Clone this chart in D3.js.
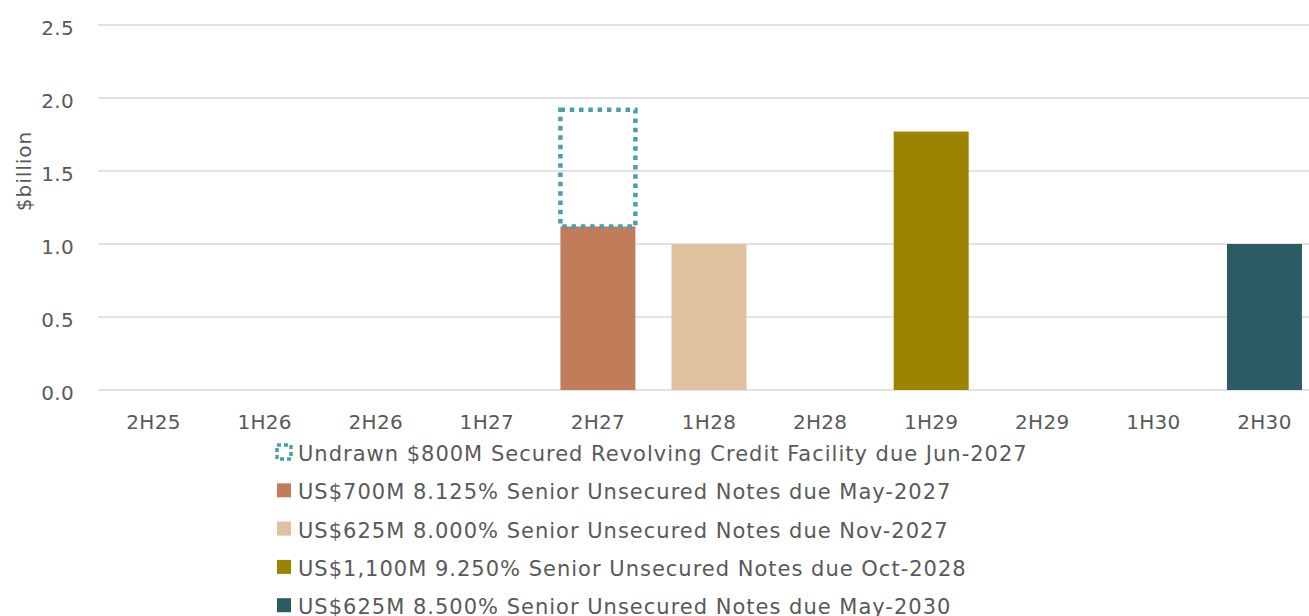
<!DOCTYPE html>
<html>
<head>
<meta charset="utf-8">
<script src="https://cdn.jsdelivr.net/npm/d3@7"></script>
<style>
  body { margin: 0; background: #fff; }
  svg { display: block; font-family: "DejaVu Sans", sans-serif; }
</style>
</head>
<body>
<svg id="chart"></svg>
<script>
// Chart size
const width = 1309;
const height = 616;

// Data
const periods = ["2H25", "1H26", "2H26", "1H27", "2H27", "1H28", "2H28", "1H29", "2H29", "1H30", "2H30"];
const notesLabels = [
    "US$700M 8.125% Senior Unsecured Notes due May-2027",
    "US$625M 8.000% Senior Unsecured Notes due Nov-2027",
    "US$1,100M 9.250% Senior Unsecured Notes due Oct-2028",
    "US$625M 8.500% Senior Unsecured Notes due May-2030"
];
const notesPeriods = ["2H27", "1H28", "1H29", "2H30"];
const notesValues = [1.12, 1.0, 1.77, 1.0];
const revolverLabel = "Undrawn $800M Secured Revolving Credit Facility due Jun-2027";
const revolverPeriod = "2H27";
const revolverValue = 0.8;
const yTicks = [0, 0.5, 1.0, 1.5, 2.0, 2.5];

const colors = ["#c17c5a", "#e0c19f", "#9a8400", "#2b5c63"];
const revolverColor = "#4a9faa";
const textColor = "#595959";

const svg = d3.select("#chart")
    .attr("width", width)
    .attr("height", height);

// Scales
const x = d3.scaleBand()
    .domain(periods)
    .range([98, 1320])
    .paddingInner(0.325)
    .paddingOuter(0.1625);

const y = d3.scaleLinear()
    .domain([0, 2.5])
    .range([390, 25]);

// Gridlines
svg.append("g")
    .selectAll("line")
    .data(yTicks)
    .join("line")
    .attr("x1", 98)
    .attr("x2", width)
    .attr("y1", d => y(d))
    .attr("y2", d => y(d))
    .attr("stroke", "#d9d9d9")
    .attr("stroke-width", 1.5);

// Y axis labels
const yAxis = d3.axisLeft(y)
    .tickValues(yTicks)
    .tickFormat(d3.format(".1f"))
    .tickSize(0)
    .tickPadding(0);

svg.append("g")
    .attr("transform", "translate(74,0)")
    .call(yAxis)
    .call(g => g.select(".domain").remove())
    .call(g => g.selectAll("text")
        .attr("fill", textColor)
        .attr("dy", "0.45em")
        .style("font-size", "20px")
        .style("letter-spacing", "0.3px")
        .style("font-family", "DejaVu Sans, sans-serif"));

// Y axis title
svg.append("text")
    .attr("transform", "translate(31,171) rotate(-90)")
    .attr("text-anchor", "middle")
    .attr("fill", textColor)
    .style("font-size", "20px")
    .style("letter-spacing", "1px")
    .text("$billion");

// X axis labels
const xAxis = d3.axisBottom(x).tickSize(0).tickPadding(0);
svg.append("g")
    .attr("transform", "translate(0,414.8)")
    .call(xAxis)
    .call(g => g.select(".domain").remove())
    .call(g => g.selectAll("text")
        .attr("fill", textColor)
        .style("font-size", "20px")
        .style("letter-spacing", "0.3px")
        .style("font-family", "DejaVu Sans, sans-serif"));

// Notes bars
const notes = notesPeriods.map((p, i) => ({ period: p, value: notesValues[i], color: colors[i] }));
svg.append("g")
    .selectAll("rect")
    .data(notes)
    .join("rect")
    .attr("x", d => x(d.period))
    .attr("y", d => y(d.value))
    .attr("width", x.bandwidth())
    .attr("height", d => y(0) - y(d.value))
    .attr("fill", d => d.color);

// Undrawn revolver, stacked on top of the 2H27 notes
const base = notesValues[notesPeriods.indexOf(revolverPeriod)];
svg.append("rect")
    .attr("x", x(revolverPeriod))
    .attr("y", y(base + revolverValue))
    .attr("width", x.bandwidth())
    .attr("height", y(base) - y(base + revolverValue))
    .attr("fill", "none")
    .attr("stroke", revolverColor)
    .attr("stroke-width", 4.5)
    .attr("stroke-dasharray", "4.5,4.8");

// Legend
const legendItems = [{ label: revolverLabel, dotted: true, color: revolverColor }]
    .concat(notesLabels.map((l, i) => ({ label: l, dotted: false, color: colors[i] })));

const legend = svg.append("g")
    .attr("transform", "translate(277,452)")
    .selectAll("g")
    .data(legendItems)
    .join("g")
    .attr("transform", (d, i) => `translate(0,${i * 38.3})`);

legend.filter(d => !d.dotted)
    .append("rect")
    .attr("x", 0)
    .attr("y", -7)
    .attr("width", 14)
    .attr("height", 14)
    .attr("fill", d => d.color);

legend.filter(d => d.dotted)
    .append("rect")
    .attr("x", 0)
    .attr("y", -7)
    .attr("width", 14)
    .attr("height", 14)
    .attr("fill", "none")
    .attr("stroke", d => d.color)
    .attr("stroke-width", 3.5)
    .attr("stroke-dasharray", "4,3");

legend.append("text")
    .attr("x", 21)
    .attr("y", 0)
    .attr("dy", "0.43em")
    .attr("fill", textColor)
    .style("font-size", "21px")
    .style("letter-spacing", "1px")
    .text(d => d.label);
</script>
</body>
</html>
